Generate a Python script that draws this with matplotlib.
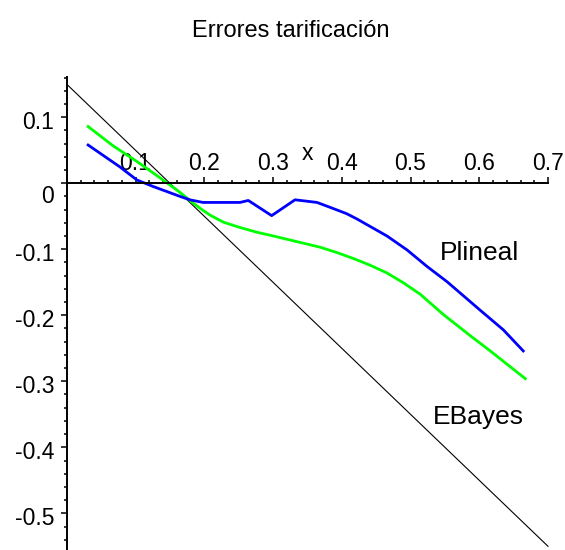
import matplotlib
matplotlib.use("Agg")
import matplotlib.pyplot as plt
from matplotlib.ticker import MultipleLocator, FixedLocator
import matplotlib.transforms as mtransforms

plt.rcParams['font.family'] = ['Liberation Sans', 'DejaVu Sans']

title = "Errores tarificación"

# Plineal (blue)
x_plineal = [0.031, 0.077, 0.102, 0.126, 0.165, 0.179, 0.198, 0.252, 0.264, 0.298, 0.332,
             0.364, 0.387, 0.407, 0.422, 0.466, 0.495, 0.524, 0.553, 0.572, 0.601, 0.635, 0.664]
y_plineal = [0.058, 0.025, 0.005, -0.005, -0.020, -0.025, -0.029, -0.029, -0.026, -0.049, -0.025,
             -0.029, -0.038, -0.046, -0.054, -0.080, -0.101, -0.126, -0.149, -0.166, -0.192, -0.222, -0.254]

# EBayes (green)
x_ebayes = [0.031, 0.067, 0.102, 0.136, 0.165, 0.179, 0.194, 0.208, 0.228, 0.252, 0.276, 0.301,
            0.325, 0.349, 0.369, 0.393, 0.417, 0.441, 0.466, 0.490, 0.514, 0.548, 0.587, 0.616, 0.667]
y_ebayes = [0.086, 0.057, 0.033, 0.008, -0.014, -0.026, -0.038, -0.048, -0.059, -0.067, -0.074, -0.080,
            -0.086, -0.092, -0.097, -0.105, -0.114, -0.124, -0.136, -0.151, -0.168, -0.199, -0.231, -0.254, -0.296]

# reference line (black)
x_ref = [0.0, 0.7]
y_ref = [0.15, -0.55]

x_ticks = [0.1, 0.2, 0.3, 0.4, 0.5, 0.6, 0.7]
x_ticklabels = ["0.1", "0.2", "0.3", "0.4", "0.5", "0.6", "0.7"]
y_ticks = [0.1, 0.0, -0.1, -0.2, -0.3, -0.4, -0.5]
y_ticklabels = ["0.1", "0", "-0.1", "-0.2", "-0.3", "-0.4", "-0.5"]

W, H = 565, 550
fig = plt.figure(figsize=(W / 100, H / 100), dpi=100)
left_px, right_px, top_px, bottom_px = 66.8, 548.0, 76.7, 550.0
ax = fig.add_axes([left_px / W, 1 - bottom_px / H, (right_px - left_px) / W, (bottom_px - top_px) / H])

ax.plot(x_ref, y_ref, color='black', lw=0.8, clip_on=False)
ax.plot(x_ebayes, y_ebayes, color='#00ff00', lw=2.0, clip_on=False)
ax.plot(x_plineal, y_plineal, color='#0000ff', lw=2.0, clip_on=False)

ax.set_xlim(0, 0.7)
ax.set_ylim(-0.5556, 0.1615)

for s in ['right', 'bottom']:
    ax.spines[s].set_visible(False)
ax.spines['top'].set_position(('data', 0))
ax.spines['left'].set_position(('data', 0))
ax.spines['top'].set_linewidth(1.4)
ax.spines['left'].set_linewidth(1.4)

ax.xaxis.tick_top()
ax.xaxis.set_major_locator(FixedLocator(x_ticks))
ax.set_xticklabels(x_ticklabels)
ax.xaxis.set_minor_locator(MultipleLocator(0.02))
ax.yaxis.set_major_locator(FixedLocator(y_ticks))
ax.set_yticklabels(y_ticklabels)
ax.yaxis.set_minor_locator(MultipleLocator(0.02))

ax.tick_params(axis='both', which='major', length=4, width=1.1, direction='out',
               labelsize=16.5, colors='black')
ax.tick_params(axis='both', which='minor', length=2.2, width=1.1, direction='out')
ax.tick_params(axis='x', which='major', pad=2)
ax.tick_params(axis='y', which='major', pad=5)

# shift y tick labels slightly downward like the reference
for val, lab in zip(y_ticks, ax.get_yticklabels()):
    dy = -0.11 if val == 0 else -0.03
    lab.set_transform(lab.get_transform() + mtransforms.ScaledTranslation(0, dy, fig.dpi_scale_trans))

ax.set_xlabel('x', fontsize=16.5)
ax.xaxis.set_label_position('top')
ax.xaxis.set_label_coords(0.5, (H - 154) / (bottom_px - top_px))
ax.xaxis.label.set_va('center')

ax.text(0.543, -0.116, 'Plineal', fontsize=19, ha='left', va='baseline')
ax.text(0.532, -0.364, 'EBayes', fontsize=19, ha='left', va='baseline')

fig.text(290.5 / W, 1 - 36.7 / H, title, fontsize=17, ha='center', va='baseline')

fig.savefig('out.png', dpi=100)
